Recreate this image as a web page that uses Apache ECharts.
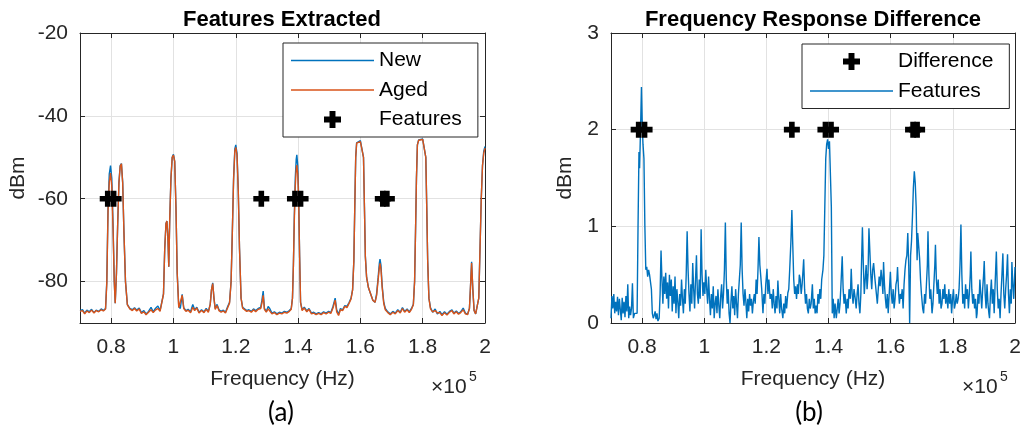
<!DOCTYPE html>
<html>
<head>
<meta charset="utf-8">
<script src="https://cdn.jsdelivr.net/npm/echarts@6/dist/echarts.min.js"></script>
<style>
  html, body { margin: 0; padding: 0; background: #fff; }
  #chart { width: 1025px; height: 431px; }
</style>
</head>
<body>
<div id="chart"></div>
<script>
// frequencies are in units of 1e5 Hz, like the axis labels
const specFreq = [
  0.700, 0.708, 0.715, 0.722, 0.730, 0.737, 0.745, 0.752, 0.760, 0.768,
  0.775, 0.782, 0.786, 0.790, 0.794, 0.798, 0.802, 0.806, 0.810, 0.813,
  0.817, 0.821, 0.825, 0.829, 0.833, 0.837, 0.841, 0.846, 0.852, 0.860,
  0.868, 0.875, 0.882, 0.890, 0.897, 0.905, 0.912, 0.920, 0.928, 0.935,
  0.942, 0.950, 0.957, 0.963, 0.968, 0.972, 0.976, 0.979, 0.982, 0.985,
  0.988, 0.992, 0.996, 1.000, 1.004, 1.008, 1.012, 1.017, 1.022, 1.028,
  1.033, 1.040, 1.047, 1.055, 1.062, 1.068, 1.075, 1.082, 1.090, 1.098,
  1.105, 1.112, 1.118, 1.122, 1.126, 1.130, 1.134, 1.140, 1.146, 1.153,
  1.160, 1.167, 1.174, 1.180, 1.185, 1.189, 1.193, 1.197, 1.200, 1.204,
  1.208, 1.212, 1.217, 1.222, 1.228, 1.235, 1.242, 1.250, 1.257, 1.264,
  1.272, 1.280, 1.284, 1.288, 1.292, 1.298, 1.304, 1.309, 1.316, 1.324,
  1.332, 1.340, 1.348, 1.356, 1.364, 1.372, 1.378, 1.382, 1.385, 1.388,
  1.391, 1.394, 1.396, 1.399, 1.402, 1.405, 1.408, 1.413, 1.420, 1.428,
  1.435, 1.443, 1.450, 1.458, 1.466, 1.474, 1.482, 1.490, 1.498, 1.505,
  1.512, 1.519, 1.524, 1.530, 1.536, 1.543, 1.550, 1.557, 1.564, 1.570,
  1.575, 1.579, 1.582, 1.585, 1.588, 1.594, 1.600, 1.606, 1.610, 1.613,
  1.616, 1.620, 1.626, 1.633, 1.640, 1.647, 1.652, 1.657, 1.661, 1.663,
  1.666, 1.670, 1.675, 1.680, 1.688, 1.696, 1.704, 1.712, 1.720, 1.728,
  1.735, 1.742, 1.750, 1.757, 1.764, 1.770, 1.774, 1.777, 1.780, 1.783,
  1.787, 1.793, 1.800, 1.806, 1.810, 1.813, 1.816, 1.820, 1.825, 1.832,
  1.840, 1.847, 1.855, 1.862, 1.870, 1.878, 1.886, 1.894, 1.900, 1.908,
  1.915, 1.922, 1.930, 1.937, 1.944, 1.950, 1.953, 1.957, 1.961, 1.965,
  1.970, 1.975, 1.980, 1.984, 1.988, 1.992, 1.996, 2.000
]
const specNew = [
  -87.0, -86.8, -87.6, -86.9, -87.3, -86.7, -87.5, -86.9, -87.2, -86.6,
  -87.0, -86.5, -80, -62, -54, -52, -55, -66, -80, -85.2,
  -78, -66, -56, -52, -51.5, -56, -68, -80, -85.5, -86.5,
  -86.8, -86.3, -86.9, -86.4, -87.5, -87.0, -87.8, -87.2, -86.2, -87.3,
  -86.5, -85.9, -87.0, -86.8, -83, -72, -66, -65.4, -69, -76.4,
  -65, -55, -50, -49.3, -51, -62, -78, -86, -86.5, -83.1,
  -86.3, -87.0, -86.7, -87.3, -85.5, -86.8, -86.2, -87.4, -86.8, -87.3,
  -86.5, -87.2, -85.5, -82, -80.3, -84, -86.5, -85.5, -86.8, -87.2,
  -86.9, -87.4, -86.0, -85, -80, -68, -55, -48, -47.0, -49,
  -58, -72, -84, -86.2, -85.8, -87.0, -86.8, -87.2, -86.6, -87.0,
  -86.5, -86.2, -84.5, -82.3, -86.5, -87.2, -86.0, -86.5, -87.6, -87.3,
  -87.8, -87.4, -87.6, -87.2, -87.4, -87.0, -86.5, -84, -76, -64,
  -55, -50.5, -49.4, -52, -60, -74, -85, -86.8, -86.2, -87.1,
  -86.5, -87.6, -87.4, -87.8, -87.5, -87.8, -87.3, -87.6, -87.2, -87.5,
  -86.0, -84, -86.8, -87.9, -86.5, -86.8, -85.8, -86.0, -85.0, -84.0,
  -82, -75, -62, -50, -46.5, -46.2, -46.0, -46.2, -50, -62,
  -74, -79, -81.5, -83, -84.5, -85, -83, -79, -75.5, -74.6,
  -76, -81, -85, -86.5, -87.3, -87.8, -87.2, -87.6, -86.8, -87.4,
  -86.3, -87.2, -86.6, -87.3, -86.5, -85.5, -80, -68, -55, -47,
  -45.8, -45.6, -45.6, -45.9, -50, -62, -75, -84, -86.3, -87.4,
  -86.6, -87.8, -87.2, -88.0, -87.3, -87.9, -87.2, -86.8, -87.6, -87.1,
  -87.7, -87.3, -86.4, -87.6, -87.9, -86.5, -82, -75.2, -82, -87.0,
  -87.8, -87.5, -84, -72, -60, -52, -48.5, -47.4
]
const specAged = [
  -87.2, -87.0, -87.8, -87.1, -87.5, -86.9, -87.6, -87.0, -87.3, -86.8,
  -87.1, -86.6, -80.5, -63, -56, -53.8, -57, -67, -80, -85.2,
  -78, -66, -56.2, -52.2, -51.6, -56.2, -68, -80, -85.6, -86.6,
  -87.0, -86.5, -87.1, -86.6, -87.7, -87.3, -88.0, -87.4, -86.8, -87.5,
  -86.9, -86.5, -87.2, -86.9, -83, -72, -66, -65.4, -69, -76.4,
  -65, -55, -50, -49.5, -51, -62, -78, -86.3, -86.7, -83.3,
  -86.5, -87.2, -86.9, -87.5, -86.2, -87.0, -86.4, -87.6, -87.0, -87.5,
  -86.7, -87.4, -85.5, -82, -80.5, -84, -86.7, -85.8, -87.0, -87.4,
  -87.1, -87.6, -86.3, -85.2, -80, -68, -55.5, -48.5, -47.6, -49.5,
  -58, -72, -84, -86.4, -86.0, -87.2, -87.0, -87.4, -86.8, -87.3,
  -86.7, -86.5, -85.2, -83.3, -86.7, -87.4, -86.6, -86.8, -87.8, -87.5,
  -88.0, -87.6, -87.8, -87.4, -87.6, -87.2, -86.7, -84, -76, -65,
  -57, -53, -51.9, -54, -61, -74, -85, -87.0, -86.4, -87.3,
  -86.7, -87.8, -87.6, -88.0, -87.7, -88.0, -87.5, -87.8, -87.4, -87.7,
  -86.4, -84.5, -87.3, -88.2, -86.8, -87.0, -86.0, -86.3, -85.2, -84.2,
  -82, -75, -62, -50, -46.6, -46.4, -46.2, -46.4, -50, -62,
  -74, -79, -81.5, -83, -84.5, -85, -83.4, -79.6, -76.5, -75.6,
  -77, -81.5, -85.3, -86.8, -87.5, -88.0, -87.4, -87.8, -87.0, -87.6,
  -86.5, -87.4, -86.8, -87.5, -86.7, -85.6, -80, -68, -55, -47,
  -45.9, -45.7, -45.7, -46.0, -50, -62, -75, -84, -86.6, -87.3,
  -87.0, -87.6, -87.5, -88.2, -87.5, -88.1, -87.4, -87.0, -87.8, -87.3,
  -87.9, -87.5, -86.8, -87.8, -88.0, -86.5, -82, -75.5, -82, -87.0,
  -87.8, -87.5, -84, -72, -60, -52, -49, -47.8
]

const diffFreq = [
  0.700, 0.703, 0.706, 0.709, 0.712, 0.715, 0.718, 0.721, 0.724, 0.727,
  0.730, 0.733, 0.736, 0.739, 0.742, 0.745, 0.748, 0.751, 0.754, 0.757,
  0.760, 0.763, 0.766, 0.769, 0.772, 0.776, 0.780, 0.784, 0.787, 0.790,
  0.792, 0.795, 0.798, 0.801, 0.803, 0.806, 0.809, 0.812, 0.815, 0.818,
  0.821, 0.824, 0.827, 0.830, 0.833, 0.836, 0.839, 0.842, 0.845, 0.848,
  0.851, 0.855, 0.858, 0.861, 0.864, 0.867, 0.870, 0.873, 0.876, 0.879,
  0.882, 0.885, 0.888, 0.891, 0.894, 0.897, 0.900, 0.903, 0.906, 0.909,
  0.912, 0.915, 0.918, 0.921, 0.924, 0.927, 0.930, 0.933, 0.936, 0.939,
  0.942, 0.945, 0.948, 0.951, 0.954, 0.957, 0.960, 0.963, 0.966, 0.969,
  0.972, 0.975, 0.978, 0.981, 0.984, 0.987, 0.990, 0.993, 0.996, 0.999,
  1.002, 1.005, 1.008, 1.011, 1.014, 1.017, 1.020, 1.023, 1.026, 1.029,
  1.032, 1.035, 1.038, 1.041, 1.044, 1.047, 1.050, 1.053, 1.056, 1.059,
  1.062, 1.065, 1.068, 1.071, 1.074, 1.077, 1.080, 1.083, 1.086, 1.089,
  1.092, 1.095, 1.098, 1.101, 1.104, 1.107, 1.110, 1.113, 1.116, 1.119,
  1.122, 1.125, 1.128, 1.131, 1.134, 1.137, 1.140, 1.143, 1.146, 1.149,
  1.152, 1.155, 1.158, 1.161, 1.164, 1.167, 1.170, 1.173, 1.176, 1.179,
  1.182, 1.185, 1.189, 1.192, 1.195, 1.198, 1.202, 1.205, 1.208, 1.212,
  1.216, 1.219, 1.222, 1.225, 1.228, 1.231, 1.234, 1.237, 1.240, 1.243,
  1.246, 1.249, 1.253, 1.256, 1.259, 1.262, 1.265, 1.269, 1.272, 1.275,
  1.279, 1.282, 1.285, 1.288, 1.291, 1.294, 1.297, 1.300, 1.303, 1.306,
  1.309, 1.312, 1.315, 1.318, 1.320, 1.323, 1.326, 1.329, 1.332, 1.335,
  1.338, 1.341, 1.344, 1.348, 1.351, 1.354, 1.357, 1.360, 1.363, 1.366,
  1.369, 1.372, 1.375, 1.378, 1.382, 1.385, 1.388, 1.391, 1.394, 1.397,
  1.400, 1.403, 1.406, 1.409, 1.412, 1.415, 1.418, 1.421, 1.425, 1.428,
  1.431, 1.434, 1.437, 1.440, 1.444, 1.447, 1.450, 1.453, 1.457, 1.460,
  1.463, 1.466, 1.470, 1.473, 1.476, 1.479, 1.482, 1.486, 1.489, 1.492,
  1.495, 1.498, 1.501, 1.504, 1.506, 1.509, 1.512, 1.515, 1.518, 1.521,
  1.524, 1.527, 1.530, 1.533, 1.536, 1.539, 1.542, 1.545, 1.548, 1.551,
  1.554, 1.557, 1.560, 1.563, 1.566, 1.569, 1.572, 1.575, 1.577, 1.580,
  1.583, 1.586, 1.589, 1.592, 1.596, 1.599, 1.602, 1.605, 1.608, 1.611,
  1.614, 1.617, 1.620, 1.622, 1.625, 1.628, 1.631, 1.634, 1.637, 1.640,
  1.643, 1.646, 1.649, 1.652, 1.655, 1.658, 1.661, 1.664, 1.667, 1.670,
  1.673, 1.676, 1.679, 1.682, 1.685, 1.687, 1.690, 1.693, 1.696, 1.699,
  1.703, 1.706, 1.709, 1.712, 1.715, 1.718, 1.720, 1.723, 1.726, 1.729,
  1.733, 1.736, 1.739, 1.742, 1.744, 1.747, 1.750, 1.753, 1.756, 1.759,
  1.762, 1.765, 1.768, 1.771, 1.774, 1.777, 1.780, 1.784, 1.787, 1.790,
  1.793, 1.796, 1.799, 1.802, 1.805, 1.808, 1.811, 1.814, 1.817, 1.820,
  1.823, 1.826, 1.829, 1.832, 1.835, 1.838, 1.841, 1.844, 1.847, 1.850,
  1.853, 1.856, 1.858, 1.861, 1.864, 1.867, 1.870, 1.873, 1.876, 1.878,
  1.881, 1.884, 1.887, 1.890, 1.893, 1.896, 1.899, 1.901, 1.904, 1.907,
  1.910, 1.913, 1.916, 1.918, 1.921, 1.924, 1.927, 1.930, 1.933, 1.936,
  1.940, 1.943, 1.946, 1.949, 1.952, 1.955, 1.958, 1.961, 1.964, 1.967,
  1.970, 1.973, 1.976, 1.979, 1.982, 1.985, 1.988, 1.990, 1.993, 1.996, 2.000
]
const diffVals = [
  0.05, 0.28, 0.15, 0.30, 0.10, 0.22, 0.12, 0.27, 0.08, 0.25,
  0.14, 0.03, 0.26, 0.10, 0.22, 0.06, 0.28, 0.12, 0.40, 0.05,
  0.17, 0.08, 0.15, 0.41, 0.05, 0.10, 0.08, 0.10, 1.00, 1.77,
  1.60, 2.00, 2.44, 2.00, 1.85, 1.70, 1.00, 0.55, 0.58, 0.48,
  0.55, 0.50, 0.52, 0.35, 0.10, 0.05, 0.08, 0.12, 0.04, 0.10,
  0.02, 0.05, 0.30, 0.75, 0.45, 0.20, 0.48, 0.30, 0.52, 0.25,
  0.42, 0.15, 0.50, 0.28, 0.45, 0.12, 0.38, 0.20, 0.48, 0.10,
  0.35, 0.22, 0.05, 0.30, 0.18, 0.45, 0.25, 0.10, 0.35, 0.20,
  0.50, 0.95, 0.55, 0.30, 0.12, 0.40, 0.20, 0.62, 0.35, 0.15,
  0.45, 0.70, 0.30, 0.20, 0.45, 0.25, 0.97, 0.50, 0.28, 0.42,
  0.30, 0.55, 0.35, 0.20, 0.48, 0.25, 0.08, 0.30, 0.15, 0.38,
  0.05, 0.20, 0.28, 0.10, 0.35, 0.18, 0.05, 0.28, 0.40, 0.15,
  0.30, 0.55, 1.04, 0.45, 0.20, 0.35, 0.10, 0.00, 0.22, 0.38,
  0.15, 0.28, 0.08, 0.35, 0.20, 0.05, 0.30, 0.45, 0.60, 1.04,
  0.55, 0.30, 0.18, 0.35, 0.22, 0.05, 0.25, 0.12, 0.30, 0.18,
  0.25, 0.10, 0.22, 0.30, 0.20, 0.45, 0.30, 0.55, 0.89, 0.60,
  0.48, 0.35, 0.10, 0.30, 0.20, 0.40, 0.56, 0.30, 0.45, 0.25,
  0.30, 0.15, 0.35, 0.20, 0.10, 0.28, 0.15, 0.44, 0.25, 0.10,
  0.30, 0.15, 0.05, 0.20, 0.10, 0.28, 0.15, 0.31, 0.35, 0.55,
  0.85, 1.17, 0.80, 0.45, 0.30, 0.38, 0.25, 0.40, 0.30, 0.50,
  0.45, 0.30, 0.40, 0.55, 0.66, 0.35, 0.20, 0.30, 0.15, 0.10,
  0.25, 0.15, 0.20, 0.40, 0.15, 0.25, 0.10, 0.18, 0.10, 0.30,
  0.20, 0.35, 0.25, 0.45, 0.55, 0.70, 1.20, 1.70, 1.85, 1.90,
  1.80, 1.88, 1.90, 1.20, 0.10, 0.25, 0.05, 0.20, 0.05, 0.15,
  0.25, 0.10, 0.20, 0.40, 0.69, 0.35, 0.20, 0.30, 0.10, 0.25,
  0.15, 0.35, 0.25, 0.56, 0.30, 0.20, 0.35, 0.25, 0.15, 0.30,
  0.40, 0.20, 0.10, 0.30, 0.60, 0.99, 0.60, 0.30, 0.45, 0.60,
  0.35, 0.50, 0.98, 0.74, 0.50, 0.35, 0.55, 0.62, 0.50, 0.40,
  0.30, 0.20, 0.35, 0.48, 0.38, 0.55, 0.45, 0.30, 0.63, 0.40,
  0.25, 0.15, 0.30, 0.10, 0.35, 0.53, 0.30, 0.20, 0.35, 0.15,
  0.25, 0.40, 0.45, 0.58, 0.35, 0.20, 0.30, 0.25, 0.35, 0.15,
  0.40, 0.55, 0.65, 0.70, 0.93, 0.60, 0.00, 0.70, 0.85, 1.10,
  1.40, 1.57, 1.45, 1.20, 0.65, 0.93, 0.80, 0.67, 0.45, 0.30,
  0.15, 0.10, 0.30, 0.20, 0.40, 0.60, 0.95, 0.50, 0.25, 0.35,
  0.10, 0.20, 0.40, 0.60, 0.81, 0.45, 0.30, 0.45, 0.20, 0.35,
  0.15, 0.20, 0.35, 0.25, 0.40, 0.20, 0.30, 0.15, 0.35, 0.20,
  0.30, 0.10, 0.25, 0.35, 0.15, 0.20, 0.30, 0.20, 0.25, 0.35,
  0.60, 1.02, 0.50, 0.20, 0.30, 0.15, 0.40, 0.25, 0.35, 0.15,
  0.30, 0.50, 0.74, 0.35, 0.20, 0.30, 0.15, 0.25, 0.05, 0.10,
  0.30, 0.20, 0.45, 0.30, 0.15, 0.35, 0.50, 0.64, 0.30, 0.15,
  0.40, 0.20, 0.10, 0.05, 0.30, 0.45, 0.20, 0.35, 0.10, 0.40,
  0.74, 0.35, 0.15, 0.25, 0.05, 0.30, 0.50, 0.72, 0.30, 0.15,
  0.35, 0.50, 0.71, 0.30, 0.10, 0.35, 0.20, 0.63, 0.40, 0.25, 0.58
]

// feature locations (pairs of markers overlap at 0.8, 1.4 and 1.68)
const featureFreq = [0.789, 0.808, 1.282, 1.390, 1.408, 1.672, 1.685]
const featureLevelA = -60
const featureLevelB = 2

const freqTicks = [0.8, 1, 1.2, 1.4, 1.6, 1.8, 2]
const dbmTicks = [-80, -60, -40, -20]
const diffTicks = [0, 1, 2, 3]

const ink = '#262626'
const gridGray = '#e2e2e2'
const sans = '"Liberation Sans", Arial, Helvetica, sans-serif'
const plus = 'path://M6.5,0H13.5V6.5H20V13.5H13.5V20H6.5V13.5H0V6.5H6.5Z'
const lineIcon = 'path://M0,0H83V1.4H0Z'
const blue = '#0072BD'
const orange = '#D95319'

const textStyle = { color: ink, fontSize: 21, fontFamily: sans }

function xAxisFor(gridIndex, position) {
  const main = position === 'bottom'
  return {
    type: 'value',
    gridIndex,
    position,
    min: 0.7,
    max: 2,
    name: main ? 'Frequency (Hz)' : '',
    nameLocation: 'middle',
    nameGap: 46,
    nameMoveOverlap: false,
    nameTextStyle: textStyle,
    axisLine: { show: true, onZero: false, lineStyle: { color: ink, width: 1 } },
    axisTick: { show: true, inside: true, length: 5, customValues: freqTicks, lineStyle: { color: ink } },
    axisLabel: { show: main, customValues: freqTicks, margin: 14, ...textStyle },
    splitLine: { show: main, lineStyle: { color: gridGray, width: 1 } },
  }
}

function yAxisFor(gridIndex, position, min, max, ticks, nameGap) {
  const main = position === 'left'
  return {
    type: 'value',
    gridIndex,
    position,
    min,
    max,
    name: main ? 'dBm' : '',
    nameLocation: 'middle',
    nameGap,
    nameMoveOverlap: false,
    nameTextStyle: textStyle,
    axisLine: { show: true, onZero: false, lineStyle: { color: ink, width: 1 } },
    axisTick: { show: true, inside: true, length: 5, customValues: ticks, lineStyle: { color: ink } },
    axisLabel: { show: main, customValues: ticks, margin: 12, ...textStyle },
    splitLine: { show: main, lineStyle: { color: gridGray, width: 1 } },
  }
}

function legendFor(left, top, items) {
  return {
    data: items,
    orient: 'vertical',
    left,
    top,
    padding: [7, 16, 7, 8],
    itemWidth: 83,
    itemHeight: 17,
    itemGap: 8.5,
    selectedMode: false,
    backgroundColor: '#fff',
    borderColor: ink,
    borderWidth: 1,
    borderRadius: 0,
    formatter: (name) => name === 'Features (b)' ? 'Features' : name,
    textStyle: { color: '#000', fontSize: 21, fontFamily: sans },
  }
}

const chart = echarts.init(document.getElementById('chart'))

chart.setOption({
  animation: false,
  backgroundColor: '#fff',
  grid: [
    { left: 80, top: 33, width: 405, height: 290, outerBoundsMode: 'none' },
    { left: 611, top: 33, width: 404, height: 290, outerBoundsMode: 'none' },
  ],
  xAxis: [
    xAxisFor(0, 'bottom'),
    xAxisFor(0, 'top'),
    xAxisFor(1, 'bottom'),
    xAxisFor(1, 'top'),
  ],
  yAxis: [
    yAxisFor(0, 'left', -90, -20, dbmTicks, 51),
    yAxisFor(0, 'right', -90, -20, dbmTicks, 0),
    yAxisFor(1, 'left', 0, 3, diffTicks, 35),
    yAxisFor(1, 'right', 0, 3, diffTicks, 0),
  ],
  legend: [
    legendFor(283, 43, [
      { name: 'New', icon: lineIcon },
      { name: 'Aged', icon: lineIcon },
      { name: 'Features' },
    ]),
    legendFor(802, 44, [
      { name: 'Difference' },
      { name: 'Features (b)', icon: lineIcon },
    ]),
  ],
  series: [
    {
      name: 'New',
      type: 'line',
      xAxisIndex: 0,
      yAxisIndex: 0,
      symbol: 'none',
      color: blue,
      lineStyle: { color: blue, width: 1.4 },
      data: specFreq.map((f, i) => [f, specNew[i]]),
      z: 2,
    },
    {
      name: 'Aged',
      type: 'line',
      xAxisIndex: 0,
      yAxisIndex: 0,
      symbol: 'none',
      color: orange,
      lineStyle: { color: orange, width: 1.4 },
      data: specFreq.map((f, i) => [f, specAged[i]]),
      z: 3,
    },
    {
      name: 'Features',
      type: 'scatter',
      xAxisIndex: 0,
      yAxisIndex: 0,
      symbol: plus,
      symbolSize: 16,
      itemStyle: { color: '#000', opacity: 1 },
      data: featureFreq.map((f) => [f, featureLevelA]),
      z: 4,
    },
    {
      name: 'Difference',
      type: 'scatter',
      xAxisIndex: 2,
      yAxisIndex: 2,
      symbol: plus,
      symbolSize: 16,
      itemStyle: { color: '#000', opacity: 1 },
      data: featureFreq.map((f) => [f, featureLevelB]),
      z: 4,
    },
    {
      name: 'Features (b)',
      type: 'line',
      xAxisIndex: 2,
      yAxisIndex: 2,
      symbol: 'none',
      color: blue,
      lineStyle: { color: blue, width: 1.4 },
      data: diffFreq.map((f, i) => [f, diffVals[i]]),
      z: 2,
    },
  ],
  graphic: [
    text('Features Extracted', 282, 20, 'bold 22px ' + sans, '#000', 'center'),
    text('Frequency Response Difference', 813, 20, 'bold 22px ' + sans, '#000', 'center'),
    text('\u00d710', 431, 387, '21px ' + sans, ink, 'left'),
    text('5', 469, 377, '14px ' + sans, ink, 'left'),
    text('\u00d710', 962, 387, '21px ' + sans, ink, 'left'),
    text('5', 1000, 377, '14px ' + sans, ink, 'left'),
    text('(a)', 281, 413, '26px Lato, "Open Sans", sans-serif', '#000', 'center'),
    text('(b)', 809, 413, '26px Lato, "Open Sans", sans-serif', '#000', 'center'),
  ],
})

function text(str, x, y, font, fill, align) {
  return {
    type: 'text',
    x,
    y,
    silent: true,
    style: { text: str, font, fill, align, textAlign: align, verticalAlign: 'middle', textVerticalAlign: 'middle' },
  }
}
</script>
</body>
</html>
